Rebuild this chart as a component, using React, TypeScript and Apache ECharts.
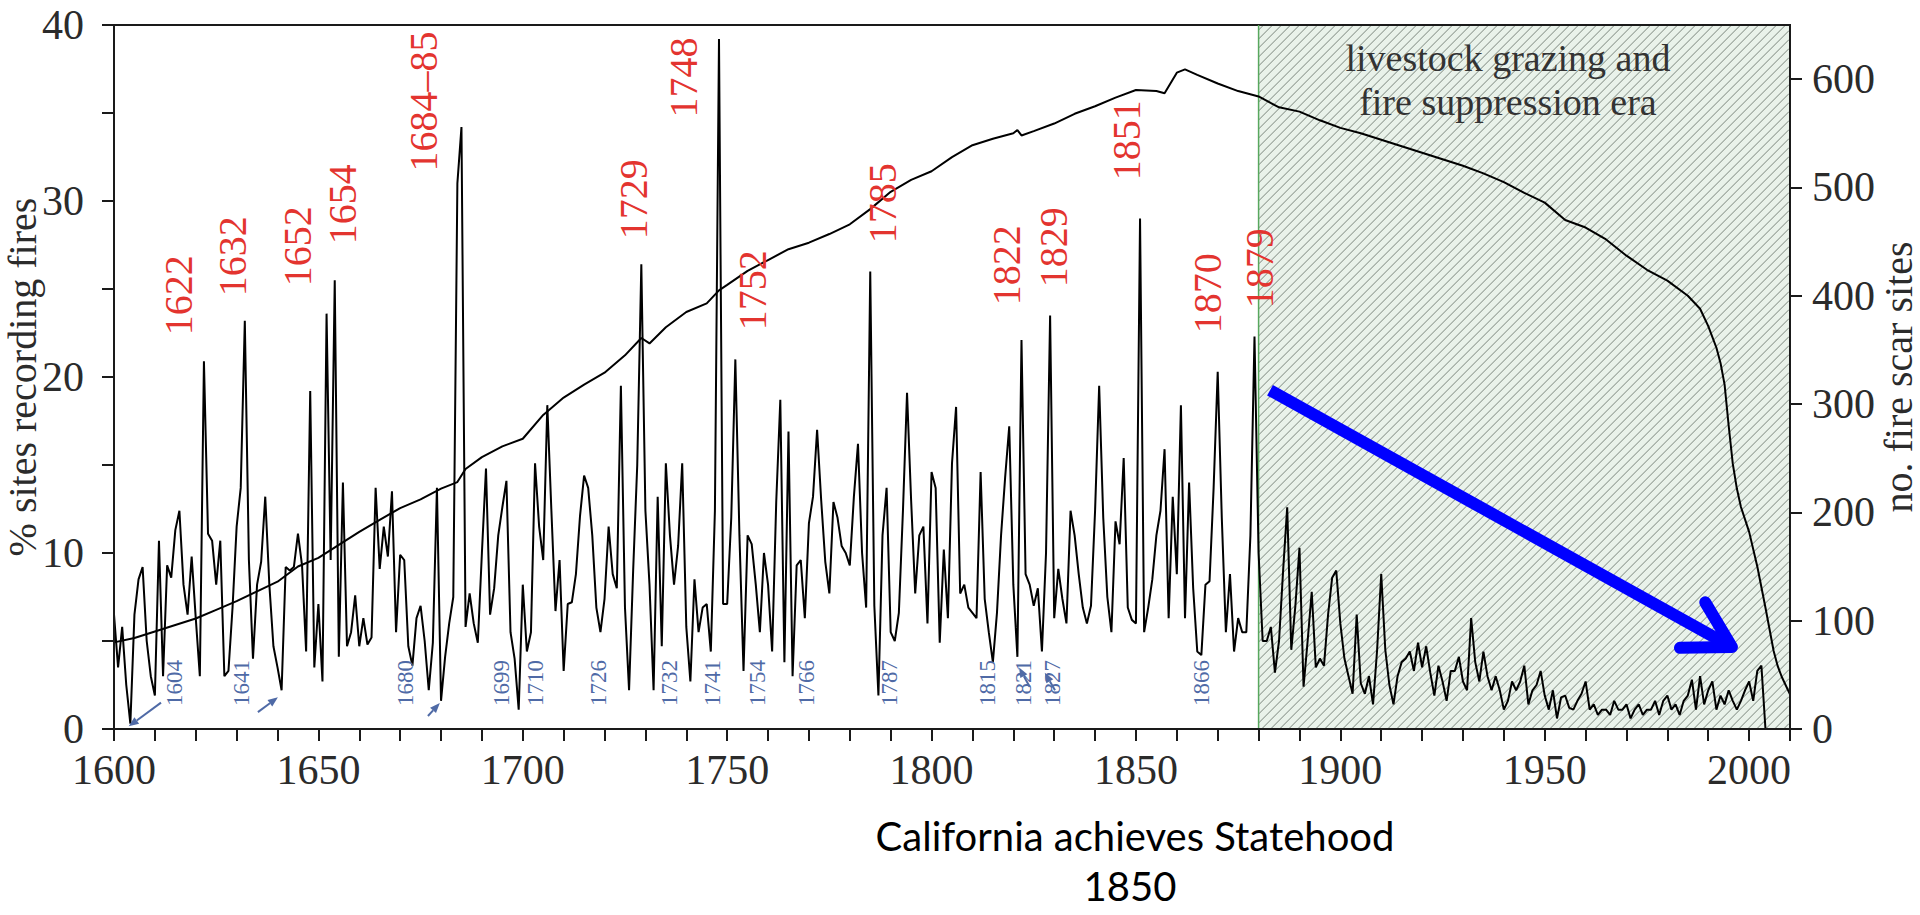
import React, { useEffect, useRef } from "react";
import * as echarts from "echarts";

const SERIF = '"Liberation Serif", "Times New Roman", serif';
const SANS = 'Lato, "Open Sans", sans-serif';

// ---- data -----------------------------------------------------------
const pctStartYear = 1600;
// % of sites recording fires, one value per year 1600..2004
const pctSitesRecordingFires = [
  6.5, 3.5, 5.8, 2.5, 0.3, 6.5, 8.5, 9.2, 5.0, 3.0,
  1.9, 10.7, 3.0, 9.3, 8.6, 11.3, 12.4, 8.2, 6.5, 9.8,
  6.3, 3.0, 20.9, 11.1, 10.7, 8.2, 10.7, 3.0, 3.3, 6.9,
  11.5, 13.7, 23.2, 9.6, 4.0, 8.2, 9.5, 13.2, 8.2, 4.7,
  3.5, 2.2, 9.2, 9.0, 9.2, 11.1, 9.3, 4.4, 19.2, 3.5,
  7.1, 2.7, 23.6, 9.6, 25.5, 4.1, 14.0, 4.7, 5.5, 7.6,
  4.7, 6.3, 4.8, 5.2, 13.7, 9.1, 11.5, 9.8, 13.5, 5.5,
  9.9, 9.6, 4.7, 3.6, 6.3, 7.0, 5.0, 2.2, 4.9, 13.7,
  1.6, 4.1, 6.0, 7.5, 31.0, 34.2, 5.8, 7.7, 6.0, 4.9,
  10.0, 14.8, 6.5, 8.0, 11.0, 12.6, 14.1, 5.5, 4.0, 1.1,
  8.2, 4.4, 5.5, 15.1, 11.5, 9.6, 18.4, 12.4, 6.7, 9.6,
  3.3, 7.1, 7.2, 8.8, 12.1, 14.4, 13.7, 11.0, 6.9, 5.5,
  7.4, 11.5, 8.8, 8.0, 19.5, 6.9, 2.2, 9.0, 15.0, 26.4,
  12.4, 8.2, 2.2, 13.2, 4.7, 15.1, 11.0, 8.2, 10.4, 15.1,
  5.8, 2.7, 8.5, 5.5, 6.9, 7.1, 4.4, 12.4, 39.2, 7.1,
  7.1, 12.0, 21.0, 11.0, 3.3, 11.0, 10.5, 8.2, 5.5, 10.0,
  8.2, 4.4, 12.9, 18.7, 3.8, 16.9, 3.0, 9.3, 9.6, 6.3,
  11.7, 13.2, 17.0, 13.0, 9.5, 7.7, 12.9, 12.0, 10.4, 10.0,
  9.3, 13.2, 16.2, 10.0, 6.9, 26.0, 7.0, 1.9, 11.0, 13.7,
  5.5, 5.0, 6.6, 12.4, 19.1, 13.0, 7.7, 11.0, 11.5, 6.0,
  14.6, 13.7, 4.9, 10.2, 6.3, 15.1, 18.3, 7.7, 8.2, 6.9,
  6.6, 6.3, 14.6, 7.4, 5.5, 3.8, 6.6, 11.0, 14.3, 17.2,
  8.2, 4.1, 22.1, 8.8, 8.2, 7.0, 8.0, 4.4, 10.0, 23.5,
  6.3, 9.1, 7.4, 6.0, 12.4, 11.0, 8.8, 6.9, 6.0, 7.0,
  12.4, 19.5, 12.0, 7.5, 5.5, 11.8, 10.5, 15.4, 6.9, 6.2,
  6.0, 29.0, 5.5, 6.9, 8.5, 11.0, 12.4, 15.9, 6.3, 13.2,
  8.8, 18.4, 6.3, 14.0, 8.0, 4.4, 4.2, 8.2, 8.4, 13.7,
  20.3, 12.0, 5.5, 8.8, 4.4, 6.3, 5.5, 5.5, 11.0, 22.3,
  10.0, 5.0, 5.0, 5.8, 3.2, 5.0, 9.0, 12.6, 4.5, 7.0,
  10.3, 2.4, 5.0, 7.8, 3.5, 4.0, 3.6, 6.5, 8.6, 9.0,
  6.0, 4.0, 3.0, 2.0, 6.5, 2.6, 2.0, 3.0, 1.4, 4.5,
  8.8, 4.5, 2.5, 1.4, 3.0, 3.8, 4.0, 4.4, 3.3, 4.9,
  3.5, 4.7, 3.2, 1.9, 3.6, 2.7, 1.6, 3.3, 3.3, 4.1,
  2.7, 2.2, 6.3, 3.8, 2.7, 4.4, 3.0, 2.2, 3.0, 2.2,
  1.1, 1.6, 2.7, 2.2, 2.7, 3.6, 1.4, 2.2, 2.5, 3.3,
  1.9, 1.1, 2.2, 0.6, 1.8, 1.9, 1.2, 1.1, 1.6, 2.0,
  2.7, 1.1, 1.4, 0.8, 1.1, 1.1, 0.8, 1.6, 1.1, 1.1,
  1.4, 0.6, 1.1, 1.4, 0.8, 1.1, 1.1, 1.6, 0.8, 1.6,
  1.9, 1.1, 1.4, 0.8, 1.6, 1.9, 2.8, 1.1, 3.0, 1.4,
  2.2, 2.7, 1.1, 1.9, 1.4, 2.2, 1.6, 1.1, 1.6, 2.2,
  2.7, 1.6, 3.3, 3.6, 0.0,
];

// number of fire scar sites (right axis)
const siteYears = [
  1600, 1605, 1610, 1615, 1620, 1625, 1630, 1635, 1640, 1645, 1650, 1655, 1660, 1665,
  1670, 1675, 1680, 1684, 1686, 1690, 1695, 1700, 1705, 1710, 1715, 1720, 1725, 1729,
  1731, 1735, 1740, 1745, 1748, 1750, 1755, 1760, 1765, 1770, 1775, 1780, 1785, 1790,
  1795, 1800, 1805, 1810, 1815, 1820, 1821, 1822, 1825, 1830, 1835, 1840, 1845, 1850,
  1855, 1857, 1860, 1862, 1865, 1870, 1875, 1880, 1885, 1890, 1895, 1900, 1905, 1910,
  1915, 1920, 1925, 1930, 1935, 1940, 1945, 1950, 1955, 1960, 1965, 1970, 1975, 1980,
  1985, 1988, 1990, 1992, 1993, 1994, 1995, 1996, 1997, 1998, 2000, 2002, 2004, 2006,
  2007, 2008, 2010,
];
const siteCounts = [
  80, 84, 90, 96, 102, 110, 118, 127, 136, 150, 158, 170, 182, 193,
  204, 212, 222, 228, 240, 251, 261, 268, 290, 306, 318, 329, 345, 361,
  356, 371, 385, 393, 405, 410, 423, 433, 443, 449, 457, 466, 480, 496,
  507, 515, 528, 539, 545, 550, 553, 548, 552, 559, 568, 575, 583, 590,
  589, 587, 606, 609, 604, 596, 589, 584, 574, 570, 562, 555, 550, 544,
  538, 532, 526, 520, 513, 505, 495, 486, 470, 463, 452, 437, 424, 414,
  400, 388, 372, 352, 338, 318, 280, 245, 222, 205, 182, 150, 112, 72,
  58, 48, 32,
];

// red labels: text, year of label centre, % level of label centre
const redLabelTexts = ["1622", "1632", "1652", "1654", "1684\u201385", "1729", "1748", "1752", "1785", "1822", "1829", "1851", "1870", "1879"];
const redLabelYears = [1615.9, 1629.1, 1644.8, 1656.0, 1675.6, 1727.0, 1739.4, 1756.1, 1788.1, 1818.4, 1829.9, 1847.8, 1867.4, 1880.3];
const redLabelLevels = [24.65, 26.86, 27.43, 29.81, 35.66, 30.1, 37.02, 24.93, 29.87, 26.35, 27.37, 33.45, 24.76, 26.18];

// blue labels: low-fire years
const blueLabelTexts = ["1604", "1641", "1680", "1699", "1710", "1726", "1732", "1741", "1754", "1766", "1787", "1815", "1821", "1827", "1866"];
const blueLabelYears = [1614.9, 1631.3, 1671.4, 1694.9, 1703.2, 1718.6, 1735.8, 1746.5, 1757.3, 1769.3, 1789.6, 1813.6, 1822.6, 1829.5, 1866.1];
const blueLabelLevel = 2.61;

// small blue arrows [fromYear, fromPct, toYear, toPct]
const blueArrows = [
  [1611.5, 1.5, 1603.6, 0.15],
  [1635.2, 0.96, 1640.1, 1.8],
  [1676.8, 0.74, 1679.7, 1.48],
  [1824.0, 2.4, 1821.4, 3.5],
  [1830.2, 2.2, 1827.7, 3.2],
];

// big trend arrow [fromYear, fromPct, toYear, toPct]
const trendArrow = [1882.8, 19.25, 1995.8, 4.66];

const eraStart = 1880;
const eraEnd = 2010;
const eraLabelLines = ["livestock grazing and", "fire suppression era"];
const eraLabelYear = 1941;
const eraLabelLevels = [38.1, 35.6];

const xMin = 1600;
const xMax = 2010;
const rightTicks = [0, 100, 200, 300, 400, 500, 600];

const RED = "#e3342f";
const BLUE = "#4f6aa6";
const INK = "#1a1a1a";
const LABEL = "#2b2b2b";

export default function App() {
  const ref = useRef<HTMLDivElement>(null);

  useEffect(() => {
    if (!ref.current) return;
    const chart = echarts.init(ref.current, null, { renderer: "svg" });

    const pctData = pctSitesRecordingFires.map((v, i) => [pctStartYear + i, v]);
    const siteData = siteCounts.map((v, i) => [siteYears[i], v]);

    const axisLineStyle = { color: INK, width: 2 };
    const tickFont = 42;

    const option: any = {
      animation: false,
      backgroundColor: "#ffffff",
      grid: {
        left: 114,
        right: 130,
        top: 25,
        bottom: 186,
        show: true,
        borderColor: INK,
        borderWidth: 2,
        backgroundColor: "transparent",
        containLabel: false,
        outerBoundsMode: "none",
      },
      xAxis: {
        type: "value",
        min: xMin,
        max: xMax,
        interval: 10,
        z: 10,
        axisLine: { show: true, onZero: false, lineStyle: axisLineStyle },
        axisTick: { show: true, length: 12, lineStyle: axisLineStyle },
        axisLabel: {
          formatter: (v: number) => (Math.round(v) % 50 === 0 ? String(Math.round(v)) : ""),
          fontSize: tickFont,
          fontFamily: SERIF,
          color: LABEL,
          margin: 20,
        },
        splitLine: { show: false },
      },
      yAxis: [
        {
          type: "value",
          min: 0,
          max: 40,
          interval: 5,
          position: "left",
          z: 10,
          name: "% sites recording fires",
          nameLocation: "middle",
          nameRotate: 90,
          nameGap: 72,
          nameMoveOverlap: false,
          nameTextStyle: { fontSize: 40, fontFamily: SERIF, color: LABEL },
          axisLine: { show: true, onZero: false, lineStyle: axisLineStyle },
          axisTick: { show: true, length: 12, lineStyle: axisLineStyle },
          axisLabel: {
            formatter: (v: number) => (Math.round(v) % 10 === 0 ? String(Math.round(v)) : ""),
            fontSize: tickFont,
            fontFamily: SERIF,
            color: LABEL,
            margin: 30,
          },
          splitLine: { show: false },
        },
        {
          type: "value",
          min: 0,
          max: 650,
          position: "right",
          z: 10,
          name: "no. fire scar sites",
          nameLocation: "middle",
          nameRotate: 90,
          nameGap: 88,
          nameMoveOverlap: false,
          nameTextStyle: { fontSize: 40, fontFamily: SERIF, color: LABEL },
          axisLine: { show: true, onZero: false, lineStyle: axisLineStyle },
          axisTick: { show: true, length: 12, lineStyle: axisLineStyle, customValues: rightTicks },
          axisLabel: {
            customValues: rightTicks,
            fontSize: tickFont,
            fontFamily: SERIF,
            color: LABEL,
            margin: 22,
          },
          splitLine: { show: false },
        },
      ],
      series: [
        {
          type: "custom",
          name: "era",
          coordinateSystem: "cartesian2d",
          xAxisIndex: 0,
          yAxisIndex: 0,
          z: 1,
          silent: true,
          encode: { x: [0, 2], y: [1, 3] },
          data: [[eraStart, 0, eraEnd, 40]],
          renderItem: (params: any, api: any) => {
            const pA = api.coord([api.value(0), api.value(3)]);
            const pB = api.coord([api.value(2), api.value(1)]);
            const left = pA[0];
            const top = pA[1] + 1;
            const right = pB[0] - 1;
            const bottom = pB[1] - 1;
            const children: any[] = [
              {
                type: "rect",
                shape: { x: left, y: top, width: right - left, height: bottom - top },
                style: { fill: "#e9f2ea" },
              },
            ];
            const gap = 9;
            for (let c = left + top + 4; c < right + bottom; c += gap) {
              let xa = c - bottom;
              let ya = bottom;
              if (xa < left) {
                xa = left;
                ya = c - left;
              }
              let xb = c - top;
              let yb = top;
              if (xb > right) {
                xb = right;
                yb = c - right;
              }
              if (xb <= xa) continue;
              children.push({
                type: "line",
                shape: { x1: xa, y1: ya, x2: xb, y2: yb },
                style: { stroke: "#7b857d", lineWidth: 1 },
              });
            }
            children.push({
              type: "line",
              shape: { x1: left, y1: top - 1, x2: left, y2: bottom + 1 },
              style: { stroke: "#58a85e", lineWidth: 1.5 },
            });
            eraLabelLines.forEach((t, i) => {
              const p = api.coord([eraLabelYear, eraLabelLevels[i]]);
              children.push({
                type: "text",
                x: p[0],
                y: p[1],
                style: {
                  text: t,
                  fill: "#333333",
                  fontSize: 38,
                  fontFamily: SERIF,
                  align: "center",
                  verticalAlign: "middle",
                },
              });
            });
            return { type: "group", children };
          },
        },
        {
          type: "line",
          name: "% sites recording fires",
          xAxisIndex: 0,
          yAxisIndex: 0,
          data: pctData,
          symbol: "none",
          z: 4,
          lineStyle: { color: "#000000", width: 2 },
        },
        {
          type: "line",
          name: "no. fire scar sites",
          xAxisIndex: 0,
          yAxisIndex: 1,
          data: siteData,
          symbol: "none",
          z: 4,
          lineStyle: { color: "#000000", width: 2 },
        },
        {
          type: "custom",
          name: "red labels",
          coordinateSystem: "cartesian2d",
          xAxisIndex: 0,
          yAxisIndex: 0,
          z: 5,
          silent: true,
          encode: { x: 0, y: 1 },
          data: redLabelYears.map((y, i) => [y, redLabelLevels[i]]),
          renderItem: (params: any, api: any) => {
            const p = api.coord([api.value(0), api.value(1)]);
            return {
              type: "text",
              x: p[0],
              y: p[1],
              rotation: Math.PI / 2,
              style: {
                text: redLabelTexts[params.dataIndex],
                fill: RED,
                fontSize: 40,
                fontFamily: SERIF,
                align: "center",
                verticalAlign: "middle",
              },
            };
          },
        },
        {
          type: "custom",
          name: "blue labels",
          coordinateSystem: "cartesian2d",
          xAxisIndex: 0,
          yAxisIndex: 0,
          z: 5,
          silent: true,
          encode: { x: 0, y: 1 },
          data: blueLabelYears.map((y) => [y, blueLabelLevel]),
          renderItem: (params: any, api: any) => {
            const p = api.coord([api.value(0), api.value(1)]);
            return {
              type: "text",
              x: p[0],
              y: p[1],
              rotation: Math.PI / 2,
              style: {
                text: blueLabelTexts[params.dataIndex],
                fill: BLUE,
                fontSize: 23,
                fontFamily: SERIF,
                align: "center",
                verticalAlign: "middle",
              },
            };
          },
        },
        {
          type: "custom",
          name: "blue arrows",
          coordinateSystem: "cartesian2d",
          xAxisIndex: 0,
          yAxisIndex: 0,
          z: 6,
          silent: true,
          encode: { x: [0, 2], y: [1, 3] },
          data: blueArrows,
          renderItem: (params: any, api: any) => {
            const a = api.coord([api.value(0), api.value(1)]);
            const b = api.coord([api.value(2), api.value(3)]);
            const ang = Math.atan2(b[1] - a[1], b[0] - a[0]);
            const L = 10;
            const W = 4;
            const base = [b[0] - L * Math.cos(ang), b[1] - L * Math.sin(ang)];
            const n = [-Math.sin(ang), Math.cos(ang)];
            return {
              type: "group",
              children: [
                {
                  type: "line",
                  shape: { x1: a[0], y1: a[1], x2: base[0], y2: base[1] },
                  style: { stroke: BLUE, lineWidth: 2 },
                },
                {
                  type: "polygon",
                  shape: {
                    points: [
                      b,
                      [base[0] + n[0] * W, base[1] + n[1] * W],
                      [base[0] - n[0] * W, base[1] - n[1] * W],
                    ],
                  },
                  style: { fill: BLUE },
                },
              ],
            };
          },
        },
        {
          type: "custom",
          name: "trend arrow",
          coordinateSystem: "cartesian2d",
          xAxisIndex: 0,
          yAxisIndex: 0,
          z: 7,
          silent: true,
          encode: { x: [0, 2], y: [1, 3] },
          data: [trendArrow],
          renderItem: (params: any, api: any) => {
            const a = api.coord([api.value(0), api.value(1)]);
            const b = api.coord([api.value(2), api.value(3)]);
            const ang = Math.atan2(b[1] - a[1], b[0] - a[0]);
            const L = 52;
            const spread = Math.PI / 6;
            const a1 = [b[0] - L * Math.cos(ang - spread), b[1] - L * Math.sin(ang - spread)];
            const a2 = [b[0] - L * Math.cos(ang + spread), b[1] - L * Math.sin(ang + spread)];
            return {
              type: "group",
              children: [
                {
                  type: "line",
                  shape: { x1: a[0], y1: a[1], x2: b[0], y2: b[1] },
                  style: { stroke: "#0000ff", lineWidth: 12, lineCap: "butt" },
                },
                {
                  type: "polyline",
                  shape: { points: [a1, b, a2] },
                  style: { stroke: "#0000ff", lineWidth: 12, lineCap: "round", lineJoin: "round", fill: null },
                },
              ],
            };
          },
        },
      ],
      graphic: [
        {
          type: "text",
          x: 1135,
          y: 836,
          style: {
            text: "California achieves Statehood",
            fill: "#000000",
            fontSize: 40,
            fontFamily: SANS,
            align: "center",
            verticalAlign: "middle",
          },
        },
        {
          type: "text",
          x: 1130,
          y: 886,
          style: {
            text: "1850",
            fill: "#000000",
            fontSize: 40,
            fontFamily: SANS,
            align: "center",
            verticalAlign: "middle",
          },
        },
      ],
    };

    chart.setOption(option);
    return () => {
      chart.dispose();
    };
  }, []);

  return (
    <div
      ref={ref}
      style={{ position: "fixed", left: 0, top: 0, width: 1920, height: 915, background: "#ffffff" }}
    />
  );
}
